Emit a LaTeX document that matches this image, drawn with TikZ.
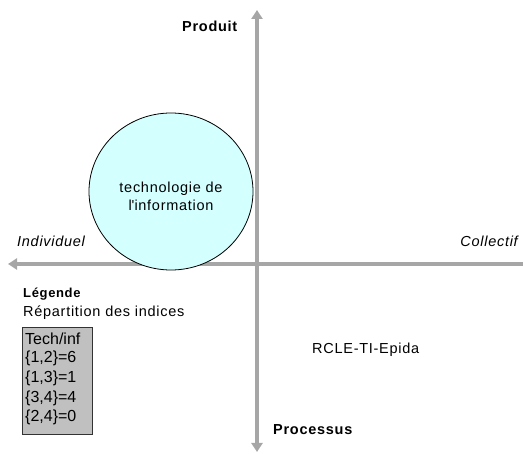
\documentclass[tikz,border=0pt]{standalone}
\usepackage{fontspec}
\setmainfont{Liberation Sans}[LetterSpace=5]
\newfontfamily\boxfont{Liberation Sans}
\usetikzlibrary{arrows.meta,shapes.geometric}
\definecolor{axisgray}{RGB}{166,166,166}
\definecolor{circfill}{RGB}{212,255,255}
\definecolor{boxfill}{RGB}{192,192,192}
\tikzset{
  axis/.style={draw=axisgray,line width=4pt,{Triangle[width=11pt,length=9pt]}-{Triangle[width=11pt,length=9pt]}},
  axisone/.style={draw=axisgray,line width=4pt,-{Triangle[width=11pt,length=9pt]}},
  lbl/.style={inner sep=0pt,anchor=base west,font=\fontsize{14.5}{16}\selectfont},
  boldlbl/.style={lbl,font=\fontsize{14.5}{16}\selectfont\bfseries},
  itlbl/.style={lbl,font=\fontsize{14.5}{16}\selectfont\itshape},
  boxtxt/.style={inner sep=0pt,anchor=base west,font=\fontsize{16}{18}\selectfont\boxfont},
}
\begin{document}
\begin{tikzpicture}[x=1pt,y=-1pt]
\useasboundingbox (0,0) rectangle (523,454);
% axes
\coordinate (vtop) at (257,10);
\coordinate (vbot) at (257,452);
\coordinate (hright) at (523,264);
\coordinate (hleft) at (8,264);
\draw[axis] (vbot) -- (vtop);
\draw[axisone] (hright) -- (hleft);
% circle
\node[ellipse,draw=black,line width=0.8pt,fill=circfill,minimum width=164pt,minimum height=157pt,inner sep=0pt] (circ) at (171,191.5) {};
\node[align=center,inner sep=0pt,font=\fontsize{14.5}{18}\selectfont] (circtext) at (171,196) {technologie de\\l\textquotesingle information};
% axis labels
\node[boldlbl] (produit) at (182,32) {Produit};
\node[boldlbl] (processus) at (273,435) {Processus};
\node[itlbl] (indiv) at (17,247) {Individuel};
\node[itlbl,anchor=base east] (coll) at (518,247) {Collectif};
\node[lbl] (rcle) at (312,354) {RCLE-TI-Epida};
% legend
\node[lbl,font=\fontsize{13}{15}\selectfont\bfseries] (legende) at (23,298) {Légende};
\node[lbl] (repart) at (23,317) {Répartition des indices};
\node[draw=black!80,line width=0.8pt,fill=boxfill,minimum width=70pt,minimum height=107pt,inner sep=0pt] (legbox) at (57,380.5) {};
\node[boxtxt] (l1) at (25,345) {Tech/inf};
\node[boxtxt] (l2) at (25,363) {\{1,2\}=6};
\node[boxtxt] (l3) at (25,383) {\{1,3\}=1};
\node[boxtxt] (l4) at (25,403) {\{3,4\}=4};
\node[boxtxt] (l5) at (25,422) {\{2,4\}=0};
\end{tikzpicture}
\end{document}
